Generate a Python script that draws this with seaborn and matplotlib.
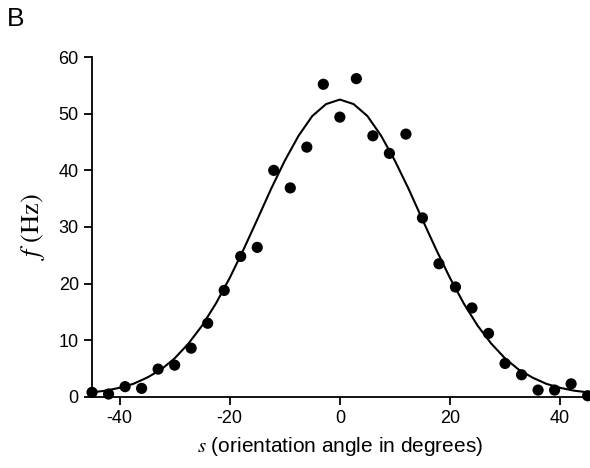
import numpy as np
import pandas as pd
import seaborn as sns
import matplotlib.pyplot as plt

# measured responses (every 3 degrees)
angles = [-45, -42, -39, -36, -33, -30, -27, -24, -21, -18, -15, -12, -9, -6, -3, 0,
          3, 6, 9, 12, 15, 18, 21, 24, 27, 30, 33, 36, 39, 42, 45]
rates = [0.8, 0.5, 1.8, 1.5, 4.9, 5.6, 8.6, 13.0, 18.8, 24.8, 26.4, 40.0, 36.9, 44.1, 55.2, 49.4,
         56.2, 46.1, 43.0, 46.4, 31.6, 23.5, 19.4, 15.7, 11.2, 5.9, 3.9, 1.2, 1.2, 2.3, 0.2]

# fitted tuning curve, every 2.5 degrees
curve_s = [-45, -42.5, -40, -37.5, -35, -32.5, -30, -27.5, -25, -22.5, -20, -17.5, -15, -12.5,
           -10, -7.5, -5, -2.5, 0, 2.5, 5, 7.5, 10, 12.5, 15, 17.5, 20, 22.5, 25, 27.5,
           30, 32.5, 35, 37.5, 40, 42.5, 45]
curve_f = [0.8, 1.1, 1.6, 2.3, 3.4, 4.8, 6.8, 9.4, 12.6, 16.5, 21.0, 26.0, 31.3, 36.7,
           41.7, 46.1, 49.6, 51.7, 52.5, 51.7, 49.6, 46.1, 41.7, 36.7, 31.3, 26.0, 21.0, 16.5,
           12.6, 9.4, 6.8, 4.8, 3.4, 2.3, 1.6, 1.1, 0.8]

pts = pd.DataFrame({'s': angles, 'f': rates})
fit = pd.DataFrame({'s': curve_s, 'f': curve_f})

sns.set_style('ticks')
plt.rcParams['font.family'] = ['Liberation Sans', 'DejaVu Sans']
plt.rcParams['mathtext.fontset'] = 'stix'
plt.rcParams['axes.unicode_minus'] = False

fig = plt.figure(figsize=(5.9, 4.68), dpi=100)
ax = fig.add_axes([0.156, 0.152, 0.84, 0.726])

sns.lineplot(data=fit, x='s', y='f', color='black', linewidth=1.5, ax=ax)
sns.scatterplot(data=pts, x='s', y='f', color='black', s=65, edgecolor='none',
                ax=ax, clip_on=False, zorder=3)

ax.set_xlim(-45, 45)
ax.set_ylim(0, 60)
ax.set_xticks([-40, -20, 0, 20, 40])
ax.set_yticks([0, 10, 20, 30, 40, 50, 60])
ax.tick_params(labelsize=13, length=6, width=1.3, color='black', labelcolor='black')
for side in ['left', 'bottom']:
    ax.spines[side].set_linewidth(1.3)
    ax.spines[side].set_color('black')
sns.despine(ax=ax)

ax.set_xlabel(r'$s$ (orientation angle in degrees)', fontsize=15, labelpad=6, color='black')
ax.set_ylabel(r'$f\ \mathrm{(Hz)}$', fontsize=19, labelpad=8, color='black')

fig.text(0.012, 0.945, 'B', fontsize=19, color='black')

fig.savefig('out.png', dpi=100)
